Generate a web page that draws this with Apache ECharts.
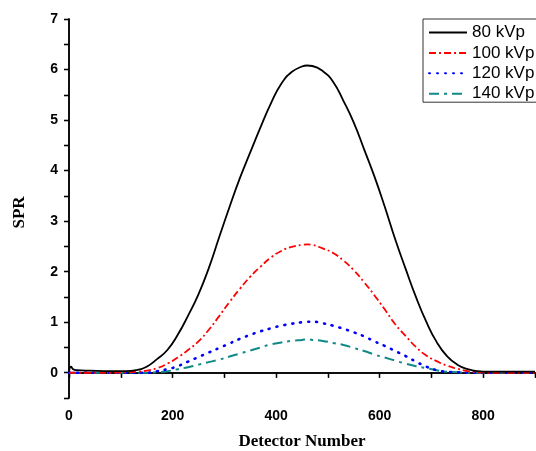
<!DOCTYPE html>
<html>
<head>
<meta charset="utf-8">
<script src="https://cdn.jsdelivr.net/npm/echarts@6/dist/echarts.min.js"></script>
<style>html,body{margin:0;padding:0;background:#fff}#c{width:536px;height:451px}</style>
</head>
<body>
<div id="c"></div>
<script>
// Detector number (x) positions
const detector = [0, 4, 8, 15, 40, 80, 110, 130, 150, 170, 190, 210, 230, 250, 270, 290, 310, 330, 350, 370, 390, 410, 430, 450, 460, 470, 490, 510, 530, 550, 570, 590, 610, 630, 650, 670, 690, 710, 730, 750, 770, 790, 810, 850, 900];
// SPR values per tube voltage
const spr80 = [0.02, 0.12, 0.07, 0.05, 0.04, 0.03, 0.03, 0.05, 0.12, 0.27, 0.45, 0.75, 1.13, 1.55, 2.07, 2.68, 3.28, 3.85, 4.36, 4.86, 5.33, 5.72, 5.95, 6.06, 6.08, 6.07, 5.97, 5.76, 5.38, 4.95, 4.42, 3.88, 3.28, 2.64, 2.06, 1.50, 1.01, 0.61, 0.33, 0.16, 0.07, 0.03, 0.02, 0.02, 0.02];
const spr100 = [0, 0, 0, 0, 0, 0, 0.01, 0.02, 0.04, 0.09, 0.18, 0.30, 0.45, 0.62, 0.85, 1.12, 1.40, 1.66, 1.90, 2.10, 2.28, 2.41, 2.49, 2.53, 2.54, 2.53, 2.46, 2.37, 2.22, 2.03, 1.79, 1.53, 1.25, 0.96, 0.73, 0.51, 0.34, 0.23, 0.14, 0.08, 0.03, 0.01, 0, 0, 0];
const spr120 = [0, 0, 0, 0, 0, 0, 0, 0, 0, 0.03, 0.07, 0.13, 0.22, 0.31, 0.40, 0.49, 0.58, 0.67, 0.75, 0.82, 0.88, 0.93, 0.97, 1.00, 1.01, 1.01, 0.98, 0.93, 0.87, 0.80, 0.72, 0.62, 0.53, 0.43, 0.33, 0.22, 0.12, 0.05, 0.02, 0.01, 0, 0, 0, 0, 0];
const spr140 = [0, 0, 0, 0, 0, 0, 0, 0, 0, 0.01, 0.03, 0.07, 0.11, 0.16, 0.21, 0.26, 0.32, 0.38, 0.44, 0.50, 0.56, 0.60, 0.63, 0.65, 0.66, 0.65, 0.63, 0.59, 0.55, 0.49, 0.43, 0.36, 0.30, 0.24, 0.18, 0.13, 0.09, 0.05, 0.02, 0.01, 0, 0, 0, 0, 0];
const seriesNames = ['80 kVp', '100 kVp', '120 kVp', '140 kVp'];
const xTitle = 'Detector Number';
const yTitle = 'SPR';

const pair = arr => detector.map((x, i) => [x, arr[i]]);
const styles = [
  { color: '#000000', type: 'solid', width: 1.8 },
  { color: '#ff0000', type: [7, 3, 2, 3], width: 1.8 },
  { color: '#0000ff', type: [1, 7], width: 2.6, cap: 'round' },
  { color: '#108a86', type: [10, 5, 3, 5], width: 2 }
];
const data = [spr80, spr100, spr120, spr140];

const axisLine = { show: true, lineStyle: { color: '#000', width: 1.5 } };
const chart = echarts.init(document.getElementById('c'), null, { renderer: 'canvas' });
chart.setOption({
  animation: false,
  backgroundColor: '#fff',
  grid: { left: 69, top: 19, right: 1, bottom: 53, outerBoundsMode: 'none', containLabel: false },
  legend: {
    left: 423, top: 19,
    orient: 'vertical',
    itemWidth: 38, itemHeight: 17, itemGap: 3.4,
    padding: [5, 30, 0, 5],
    borderColor: '#333', borderWidth: 1,
    backgroundColor: '#fff',
    itemStyle: { opacity: 0 },
    textStyle: { fontFamily: 'Liberation Sans, Arial', fontSize: 17, color: '#000' },
    data: seriesNames
  },
  xAxis: [{
    type: 'value', min: 0, max: 900, interval: 100, position: 'bottom',
    axisLine, splitLine: { show: false },
    axisTick: { show: true, inside: false, length: 5, lineStyle: { color: '#000', width: 1.3 } },
    axisLabel: { color: '#000', fontFamily: 'Liberation Sans, Arial', fontWeight: 'bold', fontSize: 14, margin: 11,
      formatter: v => (v % 200 === 0 ? String(v) : '') },
    name: xTitle, nameLocation: 'middle', nameGap: 35,
    nameTextStyle: { fontFamily: 'Liberation Serif, Times New Roman', fontWeight: 'bold', fontSize: 17, color: '#000' }
  }, {
    type: 'value', min: 0, max: 900, interval: 100, position: 'top',
    axisLine, splitLine: { show: false },
    axisTick: { show: true, inside: true, length: 5, lineStyle: { color: '#000', width: 1.3 } },
    axisLabel: { show: false }
  }],
  yAxis: [{
    type: 'value', min: -0.5, max: 7, interval: 0.5, position: 'left',
    axisLine, splitLine: { show: false },
    axisTick: { show: true, inside: false, length: 5, lineStyle: { color: '#000', width: 1.3 } },
    axisLabel: { color: '#000', fontFamily: 'Liberation Sans, Arial', fontWeight: 'bold', fontSize: 14, margin: 11,
      formatter: v => (Number.isInteger(v) ? String(v) : '') },
    name: yTitle, nameLocation: 'middle', nameGap: 41, nameRotate: 90,
    nameTextStyle: { fontFamily: 'Liberation Serif, Times New Roman', fontWeight: 'bold', fontSize: 17, color: '#000', padding: [0, 8, 0, 0] }
  }, {
    type: 'value', min: -0.5, max: 7, interval: 0.5, position: 'right',
    axisLine, splitLine: { show: false },
    axisTick: { show: true, inside: true, length: 5, lineStyle: { color: '#000', width: 1.3 } },
    axisLabel: { show: false }
  }],
  series: seriesNames.map((name, i) => ({
    name, type: 'line', xAxisIndex: 0, yAxisIndex: 0,
    data: pair(data[i]), smooth: true, symbol: 'none',
    lineStyle: styles[i], itemStyle: { color: styles[i].color },
    z: 10 - i
  }))
});
</script>
</body>
</html>
